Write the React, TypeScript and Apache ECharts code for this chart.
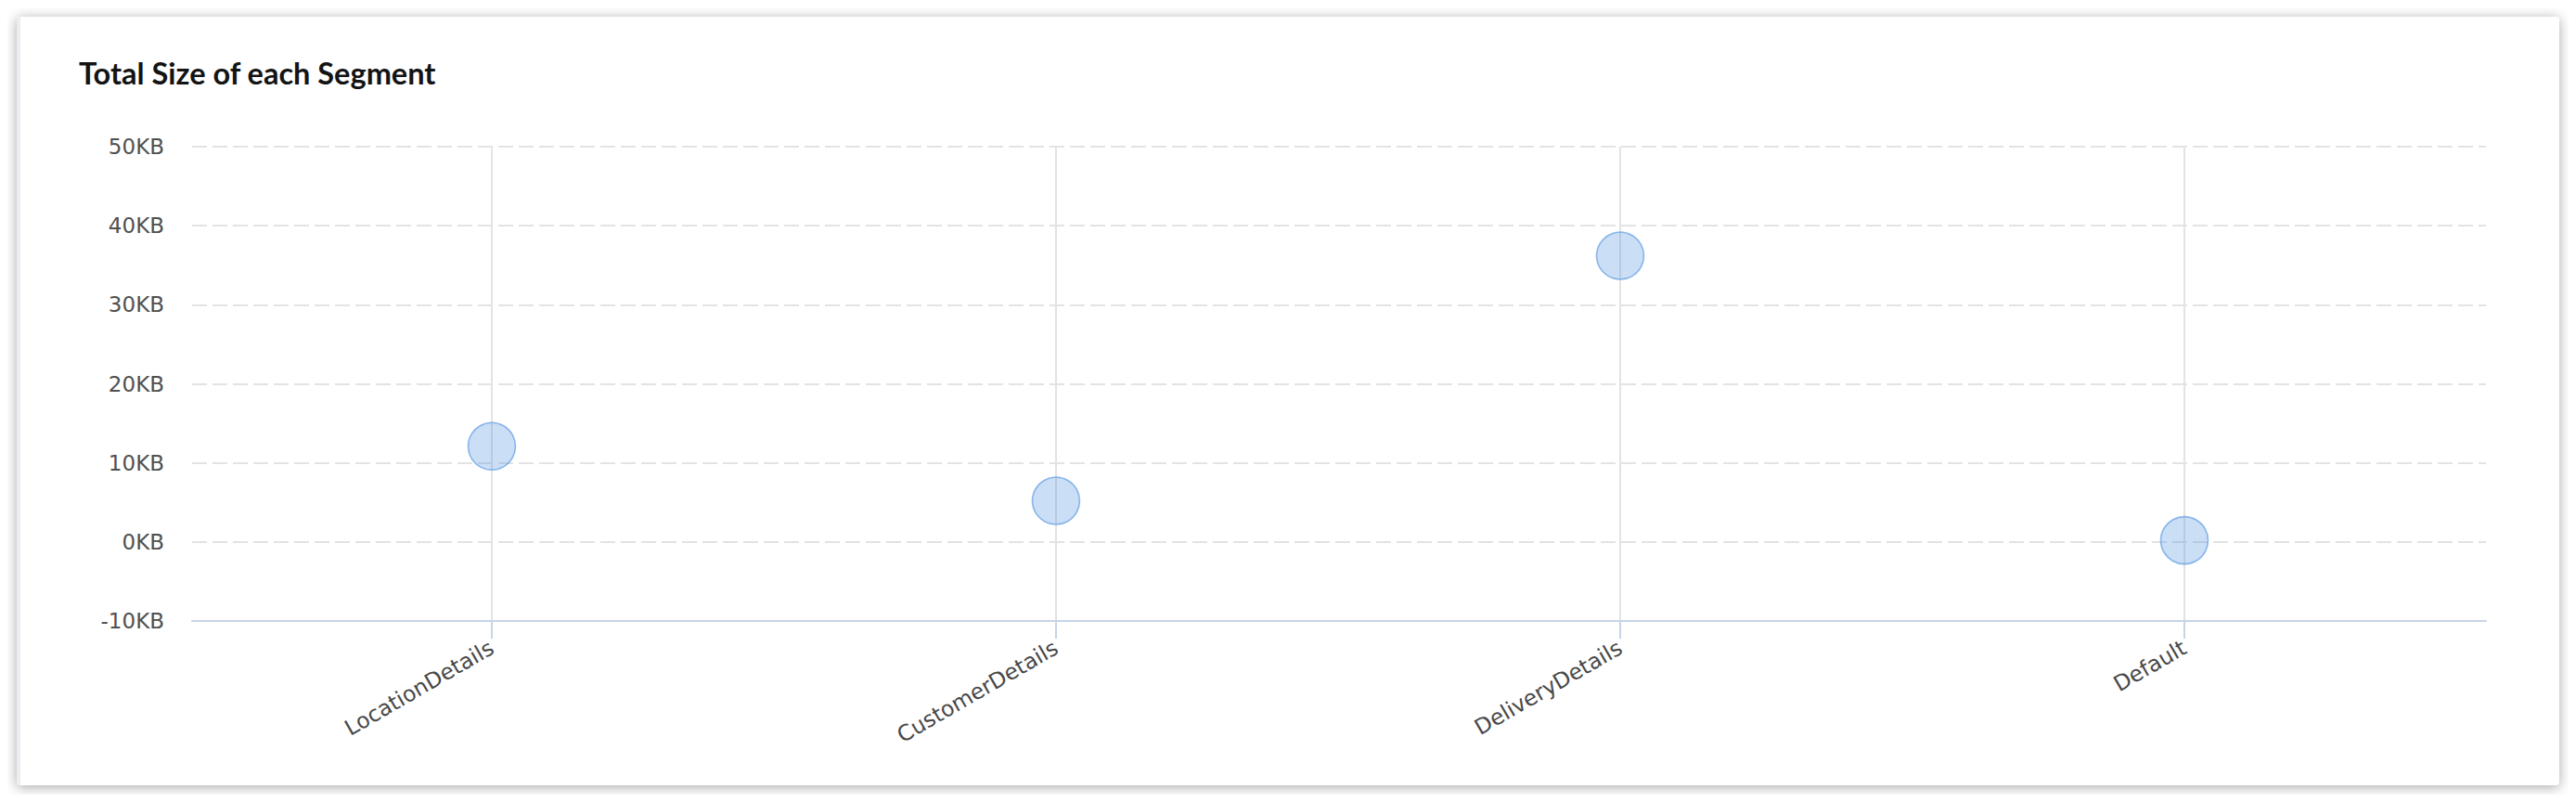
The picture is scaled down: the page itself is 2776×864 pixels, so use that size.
import React, { useEffect, useRef } from "react";
import * as echarts from "echarts";

const categories = ["LocationDetails", "CustomerDetails", "DeliveryDetails", "Default"];
const sizesKB = [12.1, 5.2, 36.2, 0.2];
const yTicks = { min: -10, max: 50, interval: 10 };
const titleText = "Total Size of each Segment";

const CARD_W = 2740;
const CARD_H = 828;

export default function App() {
  const ref = useRef<HTMLDivElement>(null);

  useEffect(() => {
    if (!ref.current) return;
    const chart = echarts.init(ref.current, undefined, { renderer: "svg" });
    const labelFont = "DejaVu Sans";
    chart.setOption({
      animation: false,
      title: {
        text: titleText,
        left: 62,
        top: 37,
        textStyle: {
          fontFamily: "Lato",
          fontWeight: 700,
          fontSize: 32.5,
          lineHeight: 36,
          color: "#141414",
        },
      },
      grid: [
        { left: 189, top: 140, right: 79, bottom: 177, containLabel: false },
        { left: 512, top: 140, right: 404, bottom: 177, containLabel: false },
      ],
      xAxis: [
        {
          gridIndex: 0,
          type: "value",
          min: 0,
          max: 1,
          axisLine: { show: true, onZero: false, lineStyle: { color: "#c8d3e8", width: 2 } },
          axisTick: { show: false },
          axisLabel: { show: false },
          splitLine: { show: false },
        },
        {
          gridIndex: 1,
          type: "category",
          data: categories,
          boundaryGap: false,
          axisLine: { show: false, onZero: false },
          axisTick: { show: true, length: 19, lineStyle: { color: "#c8d3e8", width: 2 } },
          splitLine: { show: true, lineStyle: { color: "#e3e3e3", width: 2 } },
          axisLabel: {
            interval: 0,
            rotate: 30,
            margin: 27,
            fontFamily: labelFont,
            fontSize: 23.5,
            color: "#484848",
          },
        },
      ],
      yAxis: [
        {
          gridIndex: 0,
          type: "value",
          min: yTicks.min,
          max: yTicks.max,
          interval: yTicks.interval,
          axisLine: { show: false },
          axisTick: { show: false },
          axisLabel: {
            formatter: "{value}KB",
            margin: 30,
            fontFamily: labelFont,
            fontSize: 23,
            color: "#505050",
          },
          splitLine: {
            show: true,
            lineStyle: { color: "#e3e3e3", width: 2, type: [16, 6] },
          },
        },
        {
          gridIndex: 1,
          type: "value",
          min: yTicks.min,
          max: yTicks.max,
          interval: yTicks.interval,
          show: false,
          splitLine: { show: false },
        },
      ],
      series: [
        {
          type: "scatter",
          xAxisIndex: 1,
          yAxisIndex: 1,
          data: sizesKB,
          symbol: "circle",
          symbolSize: 51,
          itemStyle: {
            color: "rgba(70,140,222,0.36)",
            borderColor: "rgba(70,140,222,0.72)",
            borderWidth: 1.6,
          },
        },
      ],
    });
    return () => chart.dispose();
  }, []);

  return (
    <div style={{ position: "relative", width: 2760, height: 848, background: "#ffffff" }}>
      <div
        style={{
          position: "absolute",
          left: 10,
          top: 10,
          width: CARD_W,
          height: CARD_H,
          background: "#ffffff",
          boxShadow: "0 2px 14px rgba(0,0,0,0.35)",
          borderRadius: 3,
          overflow: "hidden",
        }}
      >
        <div ref={ref} style={{ position: "absolute", left: 0, top: 0, width: CARD_W, height: CARD_H }} />
        <div
          style={{
            position: "absolute",
            left: 0,
            top: 0,
            width: 4,
            height: CARD_H,
            background: "#ececf1",
            pointerEvents: "none",
          }}
        />
      </div>
    </div>
  );
}
